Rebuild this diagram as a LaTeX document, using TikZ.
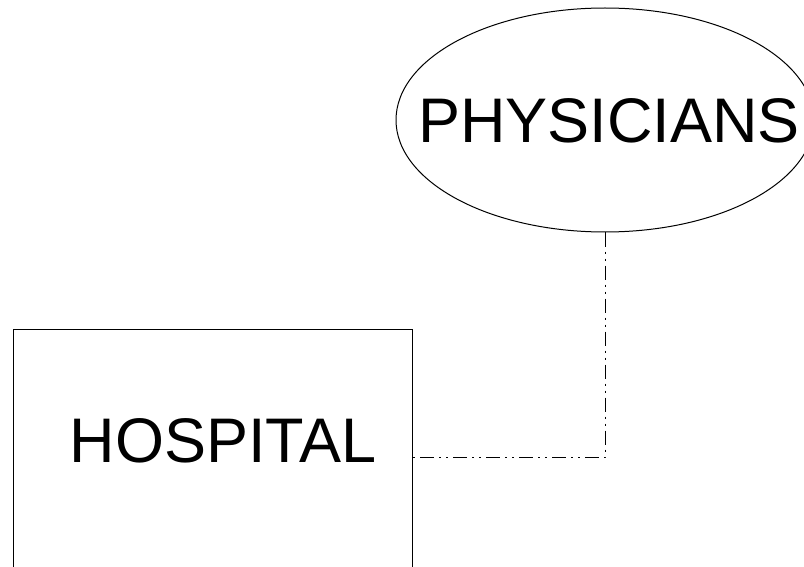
\documentclass[tikz,border=0pt]{standalone}
\usepackage{fontspec}
\setmainfont{Liberation Sans}
\usetikzlibrary{shapes.geometric}
\begin{document}
\begin{tikzpicture}[x=1pt,y=1pt,
  bigtext/.style={font=\fontsize{63}{70}\selectfont,inner sep=0pt},
  ovalnode/.style={draw,ellipse,line width=1pt,minimum width=418pt,minimum height=224pt,inner sep=0pt},
  boxnode/.style={draw,rectangle,line width=1pt,minimum width=399pt,minimum height=300pt,anchor=north west},
  conn/.style={line width=1pt,dash pattern=on 14pt off 5pt on 2pt off 5pt on 2pt off 5pt}]
\useasboundingbox (0,0) rectangle (804,-567);
\clip (0,0) rectangle (804,-567);
\node[ovalnode] (phys) at (605,-120) {};
\node[bigtext] (phystext) at (609,-121) {PHYSICIANS};
\node[boxnode] (hosp) at (13,-329) {};
\node[bigtext] (hosptext) at (223,-441) {HOSPITAL};
\coordinate (bend) at (605,-457);
\draw[conn] (phys.south) -- (bend) -- (hosp.east |- bend);
\end{tikzpicture}
\end{document}
